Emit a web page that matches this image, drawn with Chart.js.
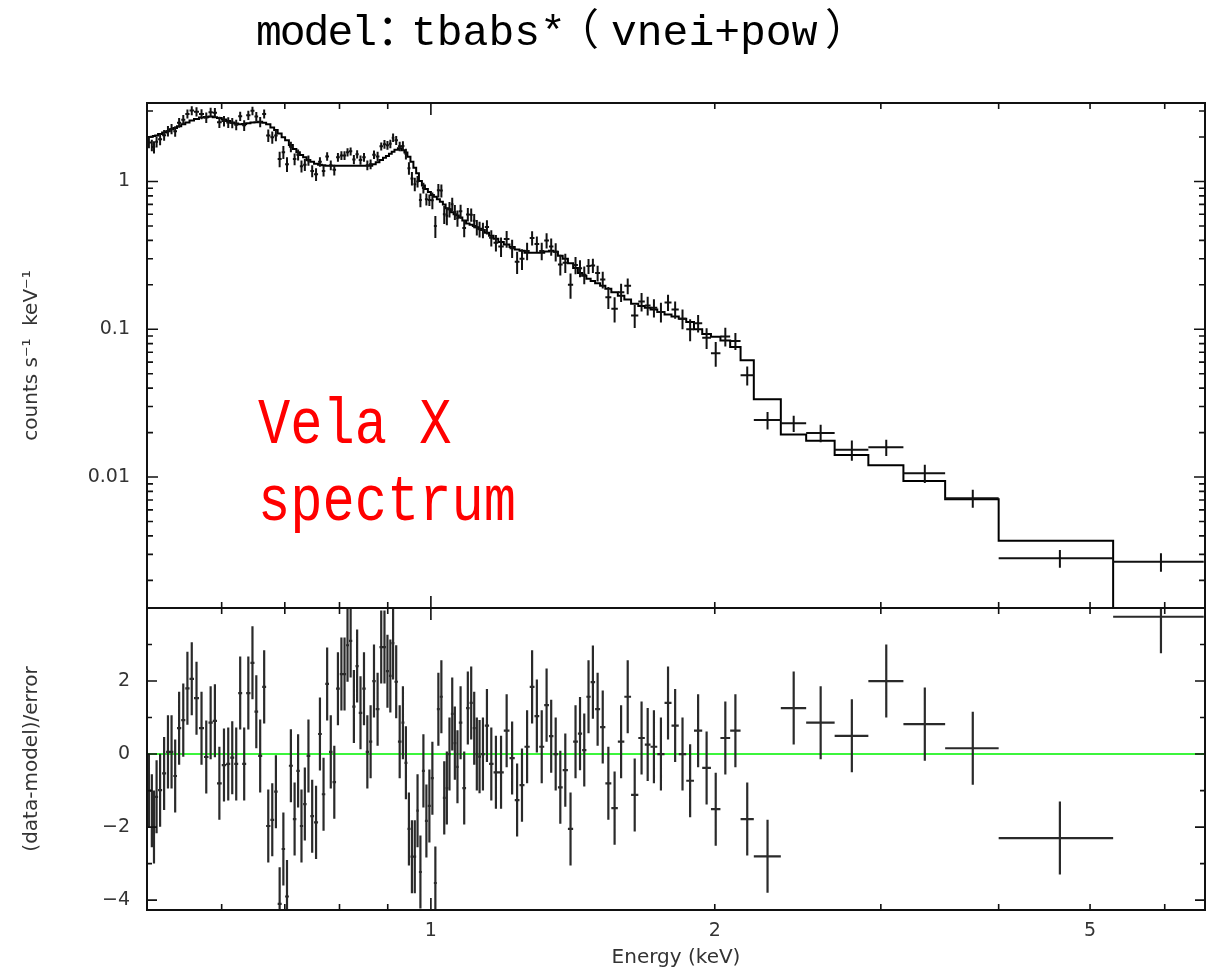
<!DOCTYPE html>
<html>
<head>
<meta charset="utf-8">
<script src="https://cdn.jsdelivr.net/npm/chart.js@4.4.1/dist/chart.umd.min.js"></script>
<style>
  html, body { margin: 0; padding: 0; background: #fff; }
  #wrap { position: relative; width: 1221px; height: 974px; overflow: hidden; }
  canvas { position: absolute; left: 0; top: 0; width: 1221px; height: 974px; }
  .title span {
    position: absolute; top: 12px;
    font: 43px "Liberation Mono", "Noto Sans CJK SC", monospace;
    line-height: 43px; white-space: pre; color: #000;
  }
  .note {
    position: absolute; left: 258px;
    font: 64px "Liberation Mono", monospace; line-height: 64px;
    color: #ff0000; white-space: pre;
    transform: scaleX(0.84); transform-origin: 0 0;
  }
</style>
</head>
<body>
<div id="wrap">
  <canvas id="specChart" width="1221" height="974"></canvas>
  <canvas id="residChart" width="1221" height="974"></canvas>
  <div class="title"><span style="left:256px;letter-spacing:-2px">model</span><span style="left:377px">：</span><span style="left:411px">tbabs*</span><span style="left:556px">（</span><span style="left:611px">vnei+pow</span><span style="left:825px">）</span></div>
  <div class="note" style="top:394px">Vela X</div>
  <div class="note" style="top:471px">spectrum</div>
</div>
<script>
// spectral bins (keV), one more edge than bins
const binEdges = [0.5, 0.5047, 0.5072, 0.5100, 0.5137, 0.5188, 0.5239, 0.5286, 0.5332, 0.5380,
  0.5436, 0.5490, 0.5547, 0.5608, 0.5677, 0.5747, 0.5810, 0.5871, 0.5932, 0.6001,
  0.6067, 0.6127, 0.6187, 0.6247, 0.6308, 0.6370, 0.6437, 0.6500, 0.6559, 0.6624,
  0.6688, 0.6758, 0.6820, 0.6879, 0.6946, 0.7005, 0.7070, 0.7139, 0.7200, 0.7262,
  0.7320, 0.7382, 0.7450, 0.7518, 0.7592, 0.7662, 0.7727, 0.7798, 0.7865, 0.7933,
  0.8006, 0.8069, 0.8129, 0.8188, 0.8253, 0.8319, 0.8385, 0.8457, 0.8529, 0.8597,
  0.8666, 0.8740, 0.8820, 0.8896, 0.8961, 0.9027, 0.9088, 0.9149, 0.9227, 0.9306,
  0.9374, 0.9443, 0.9513, 0.9582, 0.9647, 0.9712, 0.9783, 0.9855, 0.9927, 1.0000,
  1.0073, 1.0147, 1.0222, 1.0297, 1.0366, 1.0429, 1.0500, 1.0570, 1.0635, 1.0706,
  1.0798, 1.0897, 1.0991, 1.1078, 1.1153, 1.1221, 1.1303, 1.1407, 1.1526, 1.1653,
  1.1789, 1.1948, 1.2116, 1.2272, 1.2415, 1.2567, 1.2729, 1.2878, 1.3028, 1.3188,
  1.3341, 1.3488, 1.3637, 1.3796, 1.3973, 1.4153, 1.4318, 1.4467, 1.4618, 1.4771,
  1.4933, 1.5116, 1.5311, 1.5536, 1.5785, 1.6037, 1.6303, 1.6594, 1.6859, 1.7097,
  1.7381, 1.7691, 1.7995, 1.8316, 1.8654, 1.9010, 1.9396, 1.9814, 2.0278, 2.0766,
  2.13, 2.20, 2.35, 2.50, 2.68, 2.91, 3.17, 3.51, 4.00, 5.29, 6.60];

// data, counts s^-1 keV^-1
const counts = [1.84, 1.76, 1.71, 1.86, 1.93, 2.06, 2.20, 2.27, 2.19, 2.50,
  2.62, 2.87, 3.02, 2.97, 2.86, 2.71, 2.94, 2.92, 2.52, 2.57,
  2.51, 2.49, 2.42, 2.77, 2.40, 2.81, 3.01, 2.75, 2.53, 2.87,
  2.05, 1.99, 2.05, 1.42, 1.58, 1.31, 1.72, 1.42, 1.52, 1.27,
  1.30, 1.39, 1.18, 1.12, 1.36, 1.18, 1.48, 1.29, 1.20, 1.46,
  1.50, 1.50, 1.58, 1.60, 1.41, 1.53, 1.40, 1.46, 1.29, 1.31,
  1.52, 1.48, 1.73, 1.79, 1.76, 1.80, 1.98, 1.90, 1.73, 1.74,
  1.54, 1.23, 1.05, 0.96, 1.00, 0.75, 0.905, 0.76, 0.75, 0.746,
  0.50, 0.872, 0.868, 0.60, 0.586, 0.65, 0.702, 0.622, 0.565, 0.629,
  0.484, 0.599, 0.596, 0.543, 0.49, 0.476, 0.47, 0.492, 0.416, 0.385,
  0.363, 0.409, 0.354, 0.286, 0.30, 0.339, 0.415, 0.378, 0.339, 0.399,
  0.363, 0.335, 0.275, 0.282, 0.20, 0.272, 0.259, 0.234, 0.268, 0.27,
  0.24, 0.217, 0.165, 0.138, 0.178, 0.197, 0.124, 0.154, 0.145, 0.14,
  0.131, 0.152, 0.136, 0.118, 0.10, 0.11, 0.0877, 0.0689, 0.0895, 0.0833,
  0.0489, 0.0243, 0.0231, 0.0199, 0.0153, 0.0159, 0.0106, 0.0072, 0.00282, 0.00267];

const countErr = [0.16, 0.16, 0.16, 0.16, 0.17, 0.17, 0.18, 0.18, 0.18, 0.19,
  0.20, 0.20, 0.21, 0.21, 0.22, 0.22, 0.22, 0.22, 0.22, 0.21,
  0.21, 0.20, 0.20, 0.20, 0.20, 0.20, 0.20, 0.20, 0.20, 0.20,
  0.20, 0.19, 0.18, 0.17, 0.16, 0.15, 0.14, 0.13, 0.13, 0.12,
  0.12, 0.11, 0.11, 0.11, 0.10, 0.10, 0.10, 0.10, 0.10, 0.10,
  0.10, 0.10, 0.10, 0.10, 0.10, 0.10, 0.10, 0.10, 0.10, 0.10,
  0.10, 0.11, 0.11, 0.12, 0.12, 0.12, 0.13, 0.13, 0.13, 0.13,
  0.13, 0.12, 0.11, 0.10, 0.09, 0.081, 0.075, 0.071, 0.068, 0.097,
  0.085, 0.091, 0.088, 0.084, 0.079, 0.078, 0.074, 0.072, 0.071, 0.068,
  0.065, 0.062, 0.061, 0.060, 0.059, 0.058, 0.056, 0.054, 0.052, 0.049,
  0.055, 0.053, 0.050, 0.049, 0.048, 0.046, 0.046, 0.046, 0.046, 0.047,
  0.048, 0.047, 0.044, 0.042, 0.039, 0.036, 0.034, 0.032, 0.031, 0.030,
  0.029, 0.028, 0.028, 0.027, 0.025, 0.024, 0.022, 0.022, 0.021, 0.020,
  0.020, 0.019, 0.018, 0.018, 0.017, 0.015, 0.014, 0.013, 0.013, 0.011,
  0.0072, 0.0033, 0.0029, 0.0027, 0.0024, 0.0020, 0.0015, 0.0010, 0.00039, 0.00038];

// folded model, one value per bin
const model = [2.00, 2.01, 2.03, 2.05, 2.10, 2.15, 2.19, 2.26, 2.30, 2.37,
  2.44, 2.51, 2.59, 2.65, 2.71, 2.73, 2.75, 2.72, 2.69, 2.63,
  2.57, 2.51, 2.47, 2.44, 2.45, 2.48, 2.51, 2.52, 2.54, 2.50,
  2.44, 2.32, 2.23, 2.11, 1.99, 1.90, 1.77, 1.66, 1.58, 1.51,
  1.46, 1.40, 1.36, 1.32, 1.30, 1.29, 1.28, 1.28, 1.28, 1.28,
  1.28, 1.28, 1.28, 1.28, 1.28, 1.28, 1.28, 1.28, 1.28, 1.28,
  1.31, 1.35, 1.40, 1.45, 1.49, 1.54, 1.59, 1.64, 1.68, 1.63,
  1.57, 1.47, 1.36, 1.24, 1.14, 1.01, 0.94, 0.89, 0.85, 0.81,
  0.79, 0.76, 0.73, 0.70, 0.66, 0.65, 0.62, 0.60, 0.59, 0.57,
  0.545, 0.52, 0.51, 0.50, 0.49, 0.48, 0.47, 0.45, 0.43, 0.41,
  0.39, 0.375, 0.36, 0.347, 0.34, 0.33, 0.33, 0.33, 0.33, 0.336,
  0.34, 0.335, 0.315, 0.30, 0.28, 0.26, 0.24, 0.23, 0.22, 0.212,
  0.205, 0.197, 0.188, 0.178, 0.169, 0.159, 0.149, 0.144, 0.14, 0.136,
  0.131, 0.126, 0.122, 0.118, 0.112, 0.10, 0.093, 0.089, 0.084, 0.076,
  0.0617, 0.0336, 0.0194, 0.0176, 0.0141, 0.0120, 0.0094, 0.00708, 0.00371, 0.00125];

// (data-model)/error
const resid = [-1.0, -1.55, -2.0, -1.17, -0.99, -0.53, 0.06, 0.06, -0.6, 0.71,
  0.93, 1.8, 2.06, 1.53, 0.71, -0.08, 0.86, 0.91, -0.8, -0.3,
  -0.27, -0.1, -0.27, 1.67, -0.27, 1.67, 2.5, 1.16, -0.05, 1.84,
  -1.97, -1.8, -1.03, -4.1, -2.6, -3.9, -0.32, -1.78, -0.46, -1.97,
  -1.37, -0.05, -1.7, -1.87, 0.55, -1.1, 1.92, 0.06, -0.77, 1.79,
  2.19, 2.19, 2.98, 3.1, 1.3, 2.41, 1.13, 1.79, 0.06, 0.34,
  2.0, 1.23, 2.93, 2.93, 2.27, 2.14, 3.04, 1.98, 0.34, 0.86,
  -0.24, -2.05, -2.81, -2.81, -1.55, -3.23, -0.46, -1.83, -1.42, -0.66,
  -3.53, 1.23, 1.57, -1.2, -0.93, 0.0, 1.1, 0.3, -0.35, 0.86,
  -0.93, 1.26, 1.4, 0.71, 0.0, -0.07, 0.0, 0.78, -0.27, -0.5,
  -0.5, 0.64, -0.11, -1.26, -0.85, 0.2, 1.84, 1.04, 0.2, 1.34,
  0.49, 0.0, -0.91, -0.44, -2.05, 0.34, 0.56, 0.11, 1.57, 1.97,
  1.23, 0.74, -0.8, -1.48, 0.34, 1.57, -1.12, 0.44, 0.26, 0.2,
  0.0, 1.4, 0.78, 0.0, -0.73, 0.64, -0.38, -1.51, 0.44, 0.64,
  -1.78, -2.8, 1.26, 0.86, 0.5, 2.0, 0.82, 0.16, -2.3, 3.76];

// axis ticks
const energyTickMarks = [0.6, 0.7, 0.8, 0.9, 1, 2, 3, 4, 5, 6];
const energyTickLabels = [1, 2, 5];
const countTickLabels = [0.01, 0.1, 1];
const countTickMarks = [0.002, 0.003, 0.004, 0.005, 0.006, 0.007, 0.008, 0.009, 0.01,
  0.02, 0.03, 0.04, 0.05, 0.06, 0.07, 0.08, 0.09, 0.1,
  0.2, 0.3, 0.4, 0.5, 0.6, 0.7, 0.8, 0.9, 1, 2, 3];
const residTickLabels = [-4, -2, 0, 2];
const residTickMarks = [-4, -3, -2, -1, 0, 1, 2, 3];

const xMin = 0.5, xMax = 6.62;

// crosses: bin width horizontally, +-error vertically
const crossBars = {
  id: 'crossBars',
  afterDatasetsDraw(chart, args, opts) {
    const { ctx, chartArea: a, scales: { x, y } } = chart;
    ctx.save();
    ctx.beginPath();
    ctx.rect(a.left, a.top, a.width, a.height);
    ctx.clip();
    ctx.strokeStyle = opts.color;
    ctx.lineWidth = opts.width;
    ctx.beginPath();
    opts.values.forEach((v, i) => {
      const e = opts.errors ? opts.errors[i] : 1;
      const lo = binEdges[i], hi = binEdges[i + 1];
      const xc = x.getPixelForValue((lo + hi) / 2);
      const yc = y.getPixelForValue(v);
      ctx.moveTo(x.getPixelForValue(lo), yc);
      ctx.lineTo(x.getPixelForValue(hi), yc);
      ctx.moveTo(xc, y.getPixelForValue(v - e));
      ctx.lineTo(xc, y.getPixelForValue(v + e));
    });
    ctx.stroke();
    ctx.restore();
  }
};

// box with inward ticks on all four sides
const frameTicks = {
  id: 'frameTicks',
  afterDraw(chart, args, opts) {
    const { ctx, chartArea: a, scales: { x, y } } = chart;
    ctx.save();
    ctx.strokeStyle = '#111';
    ctx.lineWidth = 2;
    ctx.strokeRect(a.left, a.top, a.width, a.height);
    ctx.lineWidth = 1.6;
    ctx.beginPath();
    energyTickMarks.forEach(v => {
      const px = x.getPixelForValue(v);
      const len = v === 1 ? 12 : 6;
      ctx.moveTo(px, a.top); ctx.lineTo(px, a.top + len);
      ctx.moveTo(px, a.bottom); ctx.lineTo(px, a.bottom - len);
    });
    opts.yMarks.forEach(v => {
      const py = y.getPixelForValue(v);
      const len = opts.yMajor.includes(v) ? opts.majorLen : opts.minorLen;
      ctx.moveTo(a.left, py); ctx.lineTo(a.left + len, py);
      ctx.moveTo(a.right, py); ctx.lineTo(a.right - len, py);
    });
    ctx.stroke();
    ctx.restore();
  }
};

const tickFont = { family: 'DejaVu Sans', size: 19 };
const titleFont = { family: 'DejaVu Sans', size: 20 };
const textColor = '#333';

const centers = counts.map((_, i) => (binEdges[i] + binEdges[i + 1]) / 2);
const modelSteps = [];
model.forEach((m, i) => {
  modelSteps.push({ x: binEdges[i], y: m });
  modelSteps.push({ x: binEdges[i + 1], y: m });
});

new Chart(document.getElementById('specChart'), {
  type: 'line',
  data: {
    datasets: [{
      label: 'model',
      data: modelSteps,
      borderColor: '#000',
      borderWidth: 2,
      pointRadius: 0,
      tension: 0,
      fill: false
    }, {
      label: 'data',
      type: 'scatter',
      data: centers.map((c, i) => ({ x: c, y: counts[i] })),
      pointRadius: 0
    }]
  },
  options: {
    responsive: false,
    animation: false,
    devicePixelRatio: 1,
    layout: { padding: { left: 0, top: 103, right: 16, bottom: 366 } },
    plugins: {
      legend: { display: false },
      tooltip: { enabled: false },
      crossBars: { values: counts, errors: countErr, color: '#111', width: 2 },
      frameTicks: { yMarks: countTickMarks, yMajor: countTickLabels, majorLen: 11, minorLen: 6 }
    },
    scales: {
      x: { type: 'logarithmic', min: xMin, max: xMax, display: false },
      y: {
        type: 'logarithmic', min: 0.0013, max: 3.4,
        afterFit: s => { s.width = 147; },
        afterBuildTicks: s => { s.ticks = countTickLabels.map(v => ({ value: v })); },
        ticks: { callback: v => String(v), padding: 17, color: textColor, font: tickFont },
        grid: { display: false, drawTicks: false },
        border: { display: false },
        title: { display: true, text: 'counts s⁻¹  keV⁻¹', color: textColor, font: titleFont, padding: { top: 20 } }
      }
    }
  },
  plugins: [crossBars, frameTicks]
});

new Chart(document.getElementById('residChart'), {
  type: 'line',
  data: {
    datasets: [{
      label: 'zero',
      data: [{ x: xMin, y: 0 }, { x: xMax, y: 0 }],
      borderColor: '#3cf53c',
      borderWidth: 2,
      pointRadius: 0
    }, {
      label: 'residuals',
      type: 'scatter',
      data: centers.map((c, i) => ({ x: c, y: resid[i] })),
      pointRadius: 0
    }]
  },
  options: {
    responsive: false,
    animation: false,
    devicePixelRatio: 1,
    layout: { padding: { left: 0, top: 608, right: 16, bottom: 0 } },
    plugins: {
      legend: { display: false },
      tooltip: { enabled: false },
      crossBars: { values: resid, errors: null, color: '#2a2a2a', width: 2.2 },
      frameTicks: { yMarks: residTickMarks, yMajor: residTickLabels, majorLen: 10, minorLen: 5 }
    },
    scales: {
      x: {
        type: 'logarithmic', min: xMin, max: xMax,
        afterFit: s => { s.height = 64; },
        afterBuildTicks: s => { s.ticks = energyTickLabels.map(v => ({ value: v })); },
        ticks: { callback: v => String(v), padding: 10, maxRotation: 0, autoSkip: false, color: textColor, font: tickFont },
        grid: { display: false, drawTicks: false },
        border: { display: false },
        title: { display: true, text: 'Energy (keV)', color: textColor, font: titleFont, padding: { top: 0, bottom: 4 } }
      },
      y: {
        type: 'linear', min: -4.27, max: 4.0,
        afterFit: s => { s.width = 147; },
        afterBuildTicks: s => { s.ticks = residTickLabels.map(v => ({ value: v })); },
        ticks: { callback: v => (v < 0 ? '−' + Math.abs(v) : String(v)), padding: 17, color: textColor, font: tickFont },
        grid: { display: false, drawTicks: false },
        border: { display: false },
        title: { display: true, text: '(data-model)/error', color: textColor, font: titleFont, padding: { top: 20 } }
      }
    }
  },
  plugins: [crossBars, frameTicks]
});
</script>
</body>
</html>
